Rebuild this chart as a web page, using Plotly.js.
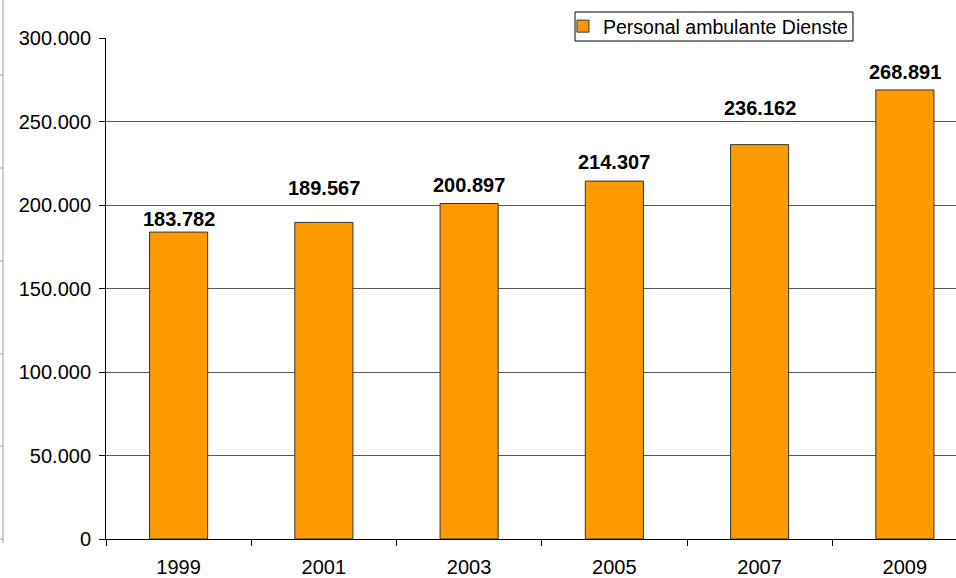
<!DOCTYPE html>
<html>
<head>
<meta charset="utf-8">
<script src="https://cdn.plot.ly/plotly-3.0.1.min.js"></script>
<style>
html,body{margin:0;padding:0;background:#fff;overflow:hidden;}
#chart{width:956px;height:578px;}
</style>
</head>
<body>
<div id="chart"></div>
<script>
var years = ["1999", "2001", "2003", "2005", "2007", "2009"];
var values = [183782, 189567, 200897, 214307, 236162, 268891];
var seriesName = "Personal ambulante Dienste";
var yTicks = [0, 50000, 100000, 150000, 200000, 250000, 300000];
// vertical pixel lift of each value label above its bar (style only)
var labelLift = [13, 34, 19, 19, 37, 18];

var FONT = "Liberation Sans, Arial, sans-serif";

function fmtDE(v) {
  return String(v).replace(/\B(?=(\d{3})+(?!\d))/g, ".");
}

var trace = {
  type: "bar",
  x: years,
  y: values,
  name: seriesName,
  width: 0.4,
  marker: {color: "#FF9900", line: {color: "#333333", width: 1}},
  hoverinfo: "skip"
};

var annotations = years.map(function(yr, i) {
  return {
    x: i, y: values[i], xref: "x", yref: "y",
    text: "<b>" + fmtDE(values[i]) + "</b>",
    showarrow: false, xanchor: "center", yanchor: "middle",
    yshift: labelLift[i],
    font: {family: FONT, size: 20, color: "#000"}
  };
});

// legend frame
var shapes = [{
  type: "rect", xref: "paper", yref: "paper", layer: "above",
  x0: 0.5518, x1: 0.8788, y0: 0.994, y1: 1.0519,
  fillcolor: "#fff", line: {color: "#000", width: 1}
}];
// faint leftover axis at the far left of the picture
shapes.push({
  type: "line", xref: "paper", yref: "paper",
  x0: -0.1212, x1: -0.1212, y0: 1.076, y1: -0.008,
  line: {color: "#9a9a9a", width: 1}
});
var leftTickY = [75, 168, 261, 354, 446, 539];
leftTickY.forEach(function(py){
  var yp = (539 - py) / 501;
  shapes.push({type: "line", xref: "paper", yref: "paper",
    x0: -0.1247, x1: -0.1212, y0: yp, y1: yp,
    line: {color: "#9a9a9a", width: 1}});
});

var layout = {
  width: 956, height: 578,
  margin: {l: 106, r: 0, t: 38, b: 39, pad: 0},
  paper_bgcolor: "#fff", plot_bgcolor: "#fff",
  separators: ",.",
  font: {family: FONT, size: 20, color: "#000"},
  showlegend: true,
  legend: {
    x: 0.5376, y: 1.023, xanchor: "left", yanchor: "middle",
    bgcolor: "rgba(0,0,0,0)", borderwidth: 0,
    font: {family: FONT, size: 19.5, color: "#000"},
    itemwidth: 30
  },
  xaxis: {
    type: "category",
    range: [-0.5, 5.352],
    showline: true, linecolor: "#000", linewidth: 1,
    ticks: "outside", ticklen: 6, tickcolor: "#000",
    tickson: "boundaries",
    ticklabelstandoff: 10,
    showgrid: false, zeroline: false,
    tickfont: {family: FONT, size: 20, color: "#000"},
    fixedrange: true
  },
  yaxis: {
    range: [0, 300000],
    tickvals: yTicks,
    tickformat: ",",
    showline: true, linecolor: "#000", linewidth: 1,
    ticks: "outside", ticklen: 6, tickcolor: "#000",
    ticklabelstandoff: 4,
    showgrid: true, gridcolor: "#555555", gridwidth: 1,
    zeroline: false,
    tickfont: {family: FONT, size: 20, color: "#000"},
    fixedrange: true
  },
  annotations: annotations,
  shapes: shapes
};

Plotly.newPlot("chart", [trace], layout, {displayModeBar: false, staticPlot: true});
</script>
</body>
</html>
